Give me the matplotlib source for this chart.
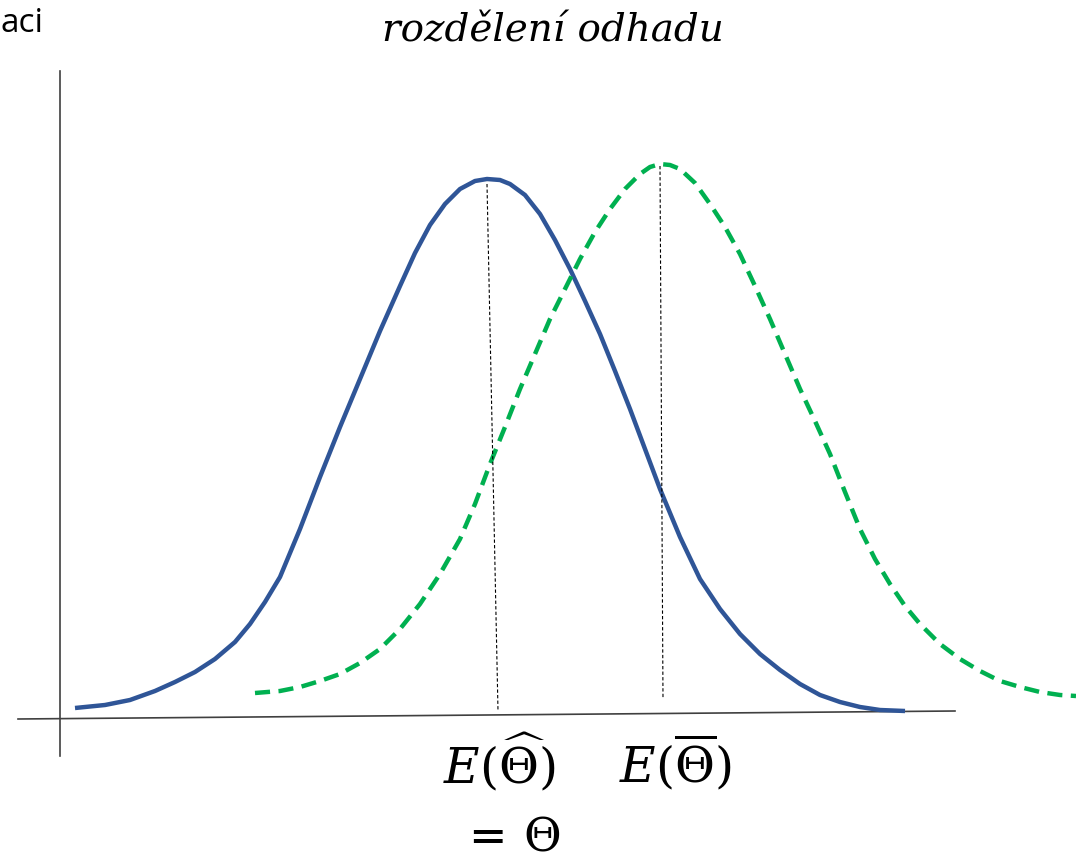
import matplotlib
matplotlib.use("Agg")
import matplotlib.pyplot as plt

#------------- 数据 (像素坐标, 从图上读取) -------------#
blue_x = [75, 105, 130, 155, 175, 195, 215, 235, 250, 265, 280, 300, 320, 340, 360, 380, 400, 415, 430, 445,
          460, 475, 487, 500, 510, 525, 540, 555, 570, 585, 600, 615, 630, 645, 660, 680, 700, 720, 740,
          760, 780, 800, 820, 840, 860, 880, 905]
blue_y = [709, 706, 701, 692, 683, 673, 660, 643, 625, 603, 578, 530, 478, 428, 380, 332, 287, 254, 226, 205,
          190, 182, 180, 181, 185, 196, 215, 241, 270, 302, 335, 372, 410, 450, 490, 538, 580, 610, 635,
          655, 671, 685, 696, 703, 708, 711, 712]

green_x = [255, 280, 300, 320, 340, 360, 380, 400, 420, 440, 460, 475, 490, 505, 520, 535, 550, 565, 580,
           595, 610, 625, 640, 650, 660, 670, 680, 695, 710, 725, 740, 755, 770, 785, 800, 815, 830, 845,
           860, 875, 890, 905, 920, 940, 960, 980, 1000, 1020, 1040, 1060, 1076]
green_y = [694, 692, 688, 682, 675, 664, 650, 630, 605, 575, 540, 505, 465, 428, 390, 355, 320, 290, 260,
           233, 210, 190, 175, 168, 165, 166, 170, 184, 205, 228, 255, 287, 320, 355, 390, 422, 455, 493,
           530, 560, 585, 607, 625, 645, 660, 672, 682, 688, 693, 696, 697]

xaxis_x = [18, 955]
xaxis_y = [720, 712]
yaxis_x = [60, 60]
yaxis_y = [72, 757]

blue_mean = ([487, 498], [185, 712])
green_mean = ([660, 663], [167, 700])

#------------- 画图 -------------#
plt.rcParams["mathtext.fontset"] = "dejavuserif"
fig = plt.figure(figsize=(10.76, 8.62), dpi=100)
ax = fig.add_axes([0, 0, 1, 1])
ax.set_xlim(0, 1076)
ax.set_ylim(862, 0)
ax.axis("off")

# 坐标轴
ax.plot(xaxis_x, xaxis_y, color="#404040", lw=1.2)
ax.plot(yaxis_x, yaxis_y, color="#404040", lw=1.2)

# 曲线
ax.plot(blue_x, blue_y, color="#2F5597", lw=3.2, solid_capstyle="butt", solid_joinstyle="round")
ax.plot(green_x, green_y, color="#00B050", lw=3.2, dashes=(3.4, 1.9))

# 均值虚线
ax.plot(*blue_mean, color="black", lw=0.8, dashes=(3, 2))
ax.plot(*green_mean, color="black", lw=0.8, dashes=(3, 2))

# 文字
ax.text(1, 23, "aci", fontsize=24, family="Open Sans", va="center", ha="left")
ax.text(553, 31, "rozdělení odhadu", fontsize=28, family="DejaVu Serif", style="italic",
        va="center", ha="center")
ax.text(499, 762, r"$E(\widehat{\Theta})$", fontsize=35, va="center", ha="center")
ax.text(675, 762, r"$E(\overline{\Theta})$", fontsize=35, va="center", ha="center")
ax.text(510, 838, r"$=\,\Theta$", fontsize=33, va="center", ha="center")

fig.savefig("out.png", dpi=100)
